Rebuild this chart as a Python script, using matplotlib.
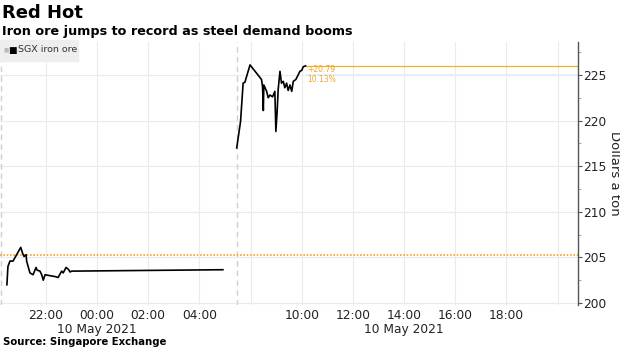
import numpy as np
import matplotlib
matplotlib.use("Agg")
import matplotlib.pyplot as plt
import matplotlib.transforms as mtransforms
from matplotlib.ticker import FixedLocator, NullFormatter

# night session (hours relative to midnight 10 May, negative = 9 May)
night_t = [-3.52, -3.48, -3.40, -3.28, -2.98, -2.90, -2.85, -2.77, -2.75, -2.62,
           -2.50, -2.38, -2.34, -2.23, -2.16, -2.10, -2.03, -1.84, -1.64, -1.52,
           -1.38, -1.32, -1.21, -1.12, -1.05, -0.99, -0.85, 4.92]
night_p = [202.0, 204.0, 204.6, 204.6, 206.1, 205.4, 205.1, 205.3, 204.6, 203.3,
           203.1, 203.9, 203.6, 203.5, 203.1, 202.5, 203.1, 203.0, 202.9, 202.8,
           203.5, 203.3, 203.9, 203.7, 203.4, 203.5, 203.5, 203.65]

# day session (clock hours, 10 May)
day_t = [7.46, 7.61, 7.71, 7.78, 7.98, 8.43, 8.47, 8.50, 8.52, 8.63, 8.69, 8.76,
         8.86, 8.95, 8.99, 9.04, 9.08, 9.15, 9.21, 9.28, 9.34, 9.41, 9.47, 9.54,
         9.61, 9.67, 9.77, 9.86, 9.93, 10.00, 10.06, 10.15]
day_p = [217.0, 219.9, 224.1, 224.2, 226.1, 224.5, 223.7, 221.1, 223.9, 223.2,
         222.5, 222.8, 222.6, 223.2, 218.8, 221.0, 223.4, 225.4, 224.1, 224.3,
         223.6, 224.1, 223.3, 223.9, 223.2, 224.3, 224.5, 225.0, 225.4, 225.5,
         225.9, 226.0]

prev_close = 205.21
last_price = 226.00
change_txt = ["+20.79", "10.13%"]

tick_hours = [-2, 0, 2, 4, 10, 12, 14, 16, 18]
tick_labels = ["22:00", "00:00", "02:00", "04:00", "10:00",
               "12:00", "14:00", "16:00", "18:00"]
date_hours = [0, 14]
date_label = "10 May 2021"
grid_hours = [-2, 0, 2, 4, 8, 10, 12, 14, 16, 18, 20]
GAP = 2.0      # hours removed between sessions
BREAK = 5.46   # display position of session break


def disp(h):
    h = np.asarray(h, dtype=float)
    return np.where(h > 6, h - GAP, h)


fig = plt.figure(figsize=(6.2, 3.48), dpi=100)
ax = fig.add_axes([0.0, 0.124, 0.932, 0.755])

ax.set_xlim(-3.79, 18.79)
ax.set_ylim(199.8, 228.6)

for g in disp(grid_hours):
    ax.axvline(g, color="#ebebeb", lw=0.8, zorder=0)
for y in [200, 205, 210, 215, 220, 225]:
    ax.axhline(y, color="#ebebeb", lw=0.8, zorder=0)
ax.axvline(BREAK, color="#d0d0d0", lw=1.0, ls=(0, (4, 3)), zorder=1)
ax.axvline(-3.77, color="#d0d0d0", lw=1.0, ls=(0, (4, 3)), zorder=1)

ax.axhline(prev_close, color="#f5a623", lw=1.2, ls=(0, (1, 1)), zorder=2)
x_last = float(disp([day_t[-1]])[0])
ax.plot([x_last, 18.79], [last_price, last_price], color="#f0b030", lw=0.9, zorder=2)
ax.axhspan(224.9, 225.1, xmin=(x_last + 3.79) / 22.58, xmax=1, color="#e8ebf8", zorder=1, lw=0)

ax.plot(disp(night_t), night_p, color="black", lw=1.2, zorder=3)
ax.plot(disp(day_t), day_p, color="black", lw=1.2, zorder=3)

ax.text(x_last + 0.05, last_price - 0.45, change_txt[0], color="#f5a623", fontsize=5.5, va="center")
ax.text(x_last + 0.05, last_price - 1.45, change_txt[1], color="#f5a623", fontsize=5.5, va="center")

ax.xaxis.set_major_locator(FixedLocator(disp(tick_hours)))
ax.set_xticklabels(tick_labels, fontsize=8.8, color="#222222")
ax.tick_params(axis="x", length=0, pad=3)
trans = mtransforms.blended_transform_factory(ax.transData, fig.transFigure)
for h in disp(date_hours):
    ax.text(h, 1 - 329 / 348, date_label, transform=trans, ha="center", va="center",
            fontsize=8.8, color="#222222")

ax.yaxis.tick_right()
ax.yaxis.set_label_position("right")
ax.set_yticks([200, 205, 210, 215, 220, 225])
ax.set_yticklabels(["200", "205", "210", "215", "220", "225"], fontsize=8.8, color="#222222")
ax.yaxis.set_minor_locator(FixedLocator([202.5, 207.5, 212.5, 217.5, 222.5, 227.5]))
ax.yaxis.set_minor_formatter(NullFormatter())
ax.tick_params(axis="y", which="major", length=3, width=0.8, color="#555555", pad=1)
ax.tick_params(axis="y", which="minor", length=2, width=0.6, color="#999999")
ax.set_ylabel("Dollars a ton", fontsize=9.5, rotation=-90, labelpad=10, color="#222222")

for s in ["top", "left", "bottom"]:
    ax.spines[s].set_visible(False)
ax.spines["right"].set_color("#555555")
ax.spines["right"].set_linewidth(1.0)

# legend box
fig.patches.append(plt.Rectangle((0.0, 1 - 61 / 348), 78 / 620, 21 / 348,
                                 transform=fig.transFigure, color="#eeeeee", zorder=5))
fig.text(3 / 620, 1 - 50 / 348, "\u25a0", color="#bbbbbb", fontsize=4, va="center", zorder=6)
fig.text(8 / 620, 1 - 50 / 348, "\u25a0", color="black", fontsize=6.5, va="center", zorder=6)
fig.text(18 / 620, 1 - 50 / 348, "SGX iron ore", color="#333333", fontsize=6.8, va="center", zorder=6)

fig.text(0.003, 1 - 13 / 348, "Red Hot", fontsize=13, fontweight="bold", va="center")
fig.text(0.003, 1 - 31 / 348, "Iron ore jumps to record as steel demand booms",
         fontsize=9.2, fontweight="bold", va="center")
fig.text(0.005, 1 - 342 / 348, "Source: Singapore Exchange", fontsize=7.3,
         fontweight="bold", va="center")

fig.savefig("out.png", dpi=100)
